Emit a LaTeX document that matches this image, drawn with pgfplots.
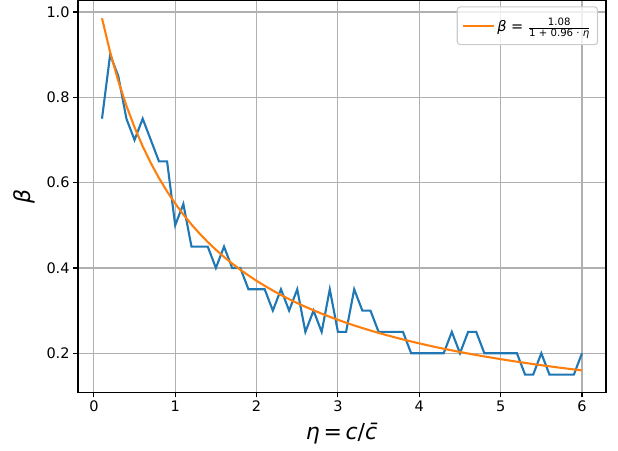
\documentclass[border=0pt]{standalone}
\usepackage{amsmath}
\usepackage{fontspec}
\setmainfont{DejaVu Sans}
\usepackage{pgfplots}
\pgfplotsset{compat=1.18}
\definecolor{mblue}{HTML}{1F77B4}
\definecolor{morange}{HTML}{FF7F0E}
\definecolor{mgrid}{HTML}{B0B0B0}
\definecolor{mleg}{HTML}{CCCCCC}
\begin{document}
\begin{tikzpicture}
\useasboundingbox (-78pt,-58pt) rectangle (540pt,392.5pt);
\begin{axis}[
  at={(0,0)}, anchor=south west,
  scale only axis, width=528pt, height=392pt,
  xmin=-0.195, xmax=6.295, ymin=0.108, ymax=1.027,
  xtick={0,1,2,3,4,5,6},
  ytick={0.2,0.4,0.6,0.8,1.0},
  /pgf/number format/assume math mode=true,
  yticklabel style={/pgf/number format/.cd, fixed, fixed zerofill, precision=1},
  tick label style={font=\fontsize{14.5}{17}\selectfont, color=black},
  xtick pos=left, ytick pos=left,
  tick align=outside, major tick length=4.9pt,
  tick style={black, line width=1.1pt},
  axis line style={line width=1.1pt},
  grid=major, major grid style={mgrid, line width=1.1pt},
  xlabel={\textit{η}\,=\,\textit{c}/\textit{c̄}},
  ylabel={\textit{β}},
  xlabel style={font=\fontsize{22}{26}\selectfont, at={(axis description cs:0.5,-0.105)}, anchor=center},
  ylabel style={font=\fontsize{22}{26}\selectfont, at={(axis description cs:-0.102,0.5)}, anchor=center},
  legend style={at={(axis description cs:0.985,0.985)}, anchor=north east,
    fill=white, fill opacity=0.8, text opacity=1, draw=mleg, line width=1.1pt,
    rounded corners=3pt, font=\fontsize{14.5}{17}\selectfont,
    inner xsep=5pt, inner ysep=9.5pt},
  legend cell align=left,
  legend image code/.code={\draw[#1, line width=2.1pt] (0pt,0pt) -- (31pt,0pt);},
]
\addplot[mblue, line width=2.1pt, forget plot] coordinates {
(0.1,0.75) (0.2,0.9) (0.3,0.85) (0.4,0.75) (0.5,0.7) (0.6,0.75) (0.7,0.7) (0.8,0.65) (0.9,0.65) (1.0,0.5)
(1.1,0.55) (1.2,0.45) (1.3,0.45) (1.4,0.45) (1.5,0.4) (1.6,0.45) (1.7,0.4) (1.8,0.4) (1.9,0.35) (2.0,0.35)
(2.1,0.35) (2.2,0.3) (2.3,0.35) (2.4,0.3) (2.5,0.35) (2.6,0.25) (2.7,0.3) (2.8,0.25) (2.9,0.35) (3.0,0.25)
(3.1,0.25) (3.2,0.35) (3.3,0.3) (3.4,0.3) (3.5,0.25) (3.6,0.25) (3.7,0.25) (3.8,0.25) (3.9,0.2) (4.0,0.2)
(4.1,0.2) (4.2,0.2) (4.3,0.2) (4.4,0.25) (4.5,0.2) (4.6,0.25) (4.7,0.25) (4.8,0.2) (4.9,0.2) (5.0,0.2)
(5.1,0.2) (5.2,0.2) (5.3,0.15) (5.4,0.15) (5.5,0.2) (5.6,0.15) (5.7,0.15) (5.8,0.15) (5.9,0.15) (6.0,0.2)
};
\addplot[morange, line width=2.1pt] coordinates {
(0.1,0.98540) (0.2,0.90604) (0.3,0.83851) (0.4,0.78035) (0.5,0.72973) (0.6,0.68528) (0.7,0.64593) (0.8,0.61086) (0.9,0.57940) (1.0,0.55102)
(1.1,0.52529) (1.2,0.50186) (1.3,0.48043) (1.4,0.46075) (1.5,0.44262) (1.6,0.42587) (1.7,0.41033) (1.8,0.39589) (1.9,0.38244) (2.0,0.36986)
(2.1,0.35809) (2.2,0.34704) (2.3,0.33666) (2.4,0.32688) (2.5,0.31765) (2.6,0.30892) (2.7,0.30067) (2.8,0.29284) (2.9,0.28541) (3.0,0.27835)
(3.1,0.27163) (3.2,0.26523) (3.3,0.25912) (3.4,0.25328) (3.5,0.24771) (3.6,0.24237) (3.7,0.23726) (3.8,0.23236) (3.9,0.22766) (4.0,0.22314)
(4.1,0.21880) (4.2,0.21463) (4.3,0.21061) (4.4,0.20674) (4.5,0.20301) (4.6,0.19941) (4.7,0.19594) (4.8,0.19258) (4.9,0.18934) (5.0,0.18621)
(5.1,0.18318) (5.2,0.18024) (5.3,0.17740) (5.4,0.17464) (5.5,0.17197) (5.6,0.16939) (5.7,0.16687) (5.8,0.16443) (5.9,0.16206) (6.0,0.15976)
};
\addlegendentry{\textit{β} = $\frac{\text{1.08}}{\text{1 + 0.96 · \textit{η}}}$}
\end{axis}
\end{tikzpicture}
\end{document}
